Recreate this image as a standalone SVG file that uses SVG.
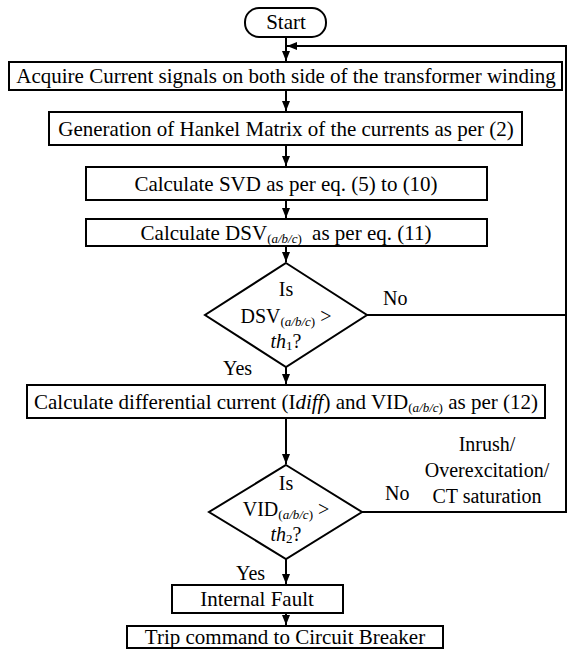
<svg xmlns="http://www.w3.org/2000/svg" width="570" height="651" viewBox="0 0 570 651">
<style>
.box{fill:#fff;stroke:#000;stroke-width:2}
.ln{fill:none;stroke:#000;stroke-width:2}
text{font-family:'Liberation Serif','Times New Roman',serif;font-size:20px;fill:#000}
.b{font-size:21px}
.m{text-anchor:middle}
.s{font-size:13px}
.i{font-style:italic}
</style>
<defs>
<marker id="ah" viewBox="0 0 10 10" refX="10" refY="5" markerWidth="10" markerHeight="10" markerUnits="userSpaceOnUse" orient="auto">
<path d="M0,1 L10,5 L0,9 Z" fill="#000"/>
</marker>
</defs>
<rect width="570" height="651" fill="#fff"/>
<g id="connectors">
<path class="ln" d="M286,37 V61" marker-end="url(#ah)"/>
<path class="ln" d="M367,315 H566 V46 H287" marker-end="url(#ah)"/>
<path class="ln" d="M362,512 H566 V46"/>
<path class="ln" d="M286,90 V111" marker-end="url(#ah)"/>
<path class="ln" d="M286,145 V166" marker-end="url(#ah)"/>
<path class="ln" d="M286,200 V218" marker-end="url(#ah)"/>
<path class="ln" d="M286,246 V262" marker-end="url(#ah)"/>
<path class="ln" d="M286,367 V384" marker-end="url(#ah)"/>
<path class="ln" d="M286,418 V464" marker-end="url(#ah)"/>
<path class="ln" d="M286,559 V584" marker-end="url(#ah)"/>
<path class="ln" d="M286,612 V625" marker-end="url(#ah)"/>
</g>
<g id="start">
<rect class="box" x="245" y="8" width="81" height="29" rx="14" ry="14"/>
<text class="m b" x="286" y="29">Start</text>
</g>
<g id="acquire">
<rect class="box" x="9" y="62" width="553" height="28"/>
<text class="m b" x="286" y="83">Acquire Current signals on both side of the transformer winding</text>
</g>
<g id="hankel">
<rect class="box" x="49" y="112" width="473" height="33"/>
<text class="m b" x="286" y="136">Generation of Hankel Matrix of the currents as per (2)</text>
</g>
<g id="svd">
<rect class="box" x="86" y="167" width="401" height="33"/>
<text class="m b" x="286" y="191">Calculate SVD as per eq. (5) to (10)</text>
</g>
<g id="dsv">
<rect class="box" x="86" y="219" width="401" height="27"/>
<text class="m b" x="286" y="240">Calculate DSV<tspan class="s" dy="3">(<tspan class="i">a/b/c</tspan>)</tspan><tspan dy="-3" dx="5"> as per eq. (11)</tspan></text>
</g>
<g id="decision1">
<path class="box" d="M286,263 L367,315 L286,367 L205,315 Z"/>
<text class="m" x="286" y="296">Is</text>
<text class="m" x="286" y="323">DSV<tspan class="s" dy="3">(<tspan class="i">a/b/c</tspan>)</tspan><tspan dy="-3"> &gt;</tspan></text>
<text class="m" x="286" y="348"><tspan class="i">th</tspan><tspan class="s" dy="2">1</tspan><tspan dy="-2">?</tspan></text>
</g>
<g id="idiff">
<rect class="box" x="27" y="385" width="518" height="33"/>
<text class="m b" x="286" y="409">Calculate differential current (I<tspan class="i">diff</tspan>) and VID<tspan class="s" dy="3">(<tspan class="i">a/b/c</tspan>)</tspan><tspan dy="-3"> as per (12)</tspan></text>
</g>
<g id="decision2">
<path class="box" d="M286,465 L362,512 L286,559 L209,512 Z"/>
<text class="m" x="286" y="490">Is</text>
<text class="m" x="286" y="516">VID<tspan class="s" dy="3">(<tspan class="i">a/b/c</tspan>)</tspan><tspan dy="-3"> &gt;</tspan></text>
<text class="m" x="286" y="541"><tspan class="i">th</tspan><tspan class="s" dy="2">2</tspan><tspan dy="-2">?</tspan></text>
</g>
<g id="fault">
<rect class="box" x="172" y="585" width="171" height="28"/>
<text class="m b" x="257" y="606">Internal Fault</text>
</g>
<g id="trip">
<rect class="box" x="127" y="626" width="316" height="22"/>
<text class="m b" x="285" y="644">Trip command to Circuit Breaker</text>
</g>
<g id="labels">
<text x="383" y="305">No</text>
<text x="223" y="375">Yes</text>
<text x="385" y="500">No</text>
<text class="m" x="487" y="451">Inrush/</text>
<text class="m" x="487" y="477">Overexcitation/</text>
<text class="m" x="487" y="503">CT saturation</text>
<text x="236" y="580">Yes</text>
</g>
</svg>
